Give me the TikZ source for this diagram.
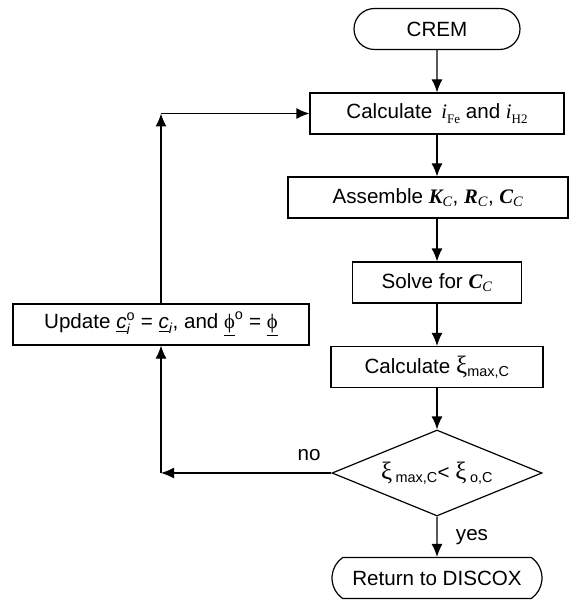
\documentclass[tikz,border=0pt]{standalone}
\usepackage{amsmath}
\usepackage{fontspec}
\setmainfont{Liberation Sans}
\newfontfamily\tms{Liberation Serif}
\usepackage{tikz}
\tikzset{
    terminal/.style={ % requires library shapes.misc
        draw,
        rounded rectangle,
        rounded rectangle arc length=#1,
        minimum height=41pt,
        inner sep=0pt
    },
}
\usetikzlibrary{arrows.meta,calc}
\usetikzlibrary{positioning}
\usetikzlibrary{shapes}
% larger xi as in the symbol font
\newcommand{\bigxi}{{\tms\fontsize{25}{25}\selectfont ξ}}

\begin{document}
\begin{tikzpicture}[x=1pt,y=-1pt,line width=1.2pt,>={Latex[length=13pt,width=11pt]},font=\fontsize{20.6}{24}\selectfont]
\useasboundingbox (0,0) rectangle (574,601);
%% box shapes
\tikzstyle{process}=[rectangle,draw=black,minimum height=41pt,inner sep=0pt]
\tikzstyle{test}=[diamond,draw=black,aspect=2.44,minimum width=210pt,minimum height=86pt,inner sep=0pt]
%%%%%%%%%%%%%%%%%%%%%%%%%%%%%%%%%%%%%%%%%%%%%%%%%%%%%%%%%%%%%%%%%%%%%%%%
%start / end
\node[terminal=180,minimum width=166pt] (crem) at (437,29) {CREM};
\node[terminal=110,minimum width=210pt] (ret) at (437,578) {Return to DISCOX};

%%%%%%%%%%%%%%%%%%%%%%%%%%%%%%%%%%%%%%%%%%%%%%%%%%%%%%%%%%%%%%%%%%%%%%%%
%main column
\node[process,minimum width=254pt] (calc) at (437,113.5) {Calculate \,{\tms\itshape i}\raisebox{-0.5ex}{\fontsize{13}{13}\selectfont\tms Fe} and {\tms\itshape i}\raisebox{-0.5ex}{\fontsize{13}{13}\selectfont\tms H2}};
\node[process,minimum width=280pt] (asm) at (428,197.5) {Assemble {\tms\bfseries\itshape K}$_{\text{\tms\itshape C}}$, {\tms\bfseries\itshape R}$_{\text{\tms\itshape C}}$, {\tms\bfseries\itshape C}$_{\text{\tms\itshape C}}$};
\node[process,minimum width=169pt] (solve) at (437,282.5) {Solve for {\tms\bfseries\itshape C}$_{\text{\tms\itshape C}}$};
\node[process,minimum width=212pt] (xi) at (437,367) {Calculate \bigxi$_{\text{max,C}}$};
\node[test] (check) at (437,473) {\bigxi\,$_{\text{max,C}}$< \bigxi\,$_{\text{o,C}}$};

%update (loop back)
\node[process,minimum width=296pt] (upd) at (161,324.5) {Update $\underline{\textit{c}}_{\textit{i}}^{\text{o}}$ = $\underline{\textit{c}}_{\textit{i}}$, and $\underline{\text{\tms ϕ}}^{\text{o}}$ = $\underline{\text{\tms ϕ}}$};

%corners
\coordinate (nocorner) at (upd.south |- check.west);
\coordinate (upcorner) at (upd.north |- calc.west);

%%%%%%%%%%%%%%%%%%%%%%%%%%%%%%%%%%%%%%%%%%%%%%%%%%%%%%%%%%%%%%
%ARROWS
\draw[->] (crem) -- (calc);
\draw[->] (calc) -- (calc.south |- asm.north);
\draw[->] (solve |- asm.south) -- (solve);
\draw[->] (solve) -- (xi);
\draw[->] (xi) -- (check);
\draw[->] (check) -- (ret);
% no -> update -> calc
\draw[->] (check) -- (nocorner);
\draw[->] (nocorner) -- (upd);
\draw[->] (upd) -- (upcorner);
\draw[->] (upcorner) -- (calc);

%%%%%%%%%%%%%%%%%%%%%%%%%%%%%%%%%%%%%%%%%%%%%%%%%%%%%%%%%%%%%%
% BRANCH LABELS
\node (nolabel) at (309,455.5) {no};
\node (yeslabel) at (472,537) {yes};
\end{tikzpicture}
\end{document}
